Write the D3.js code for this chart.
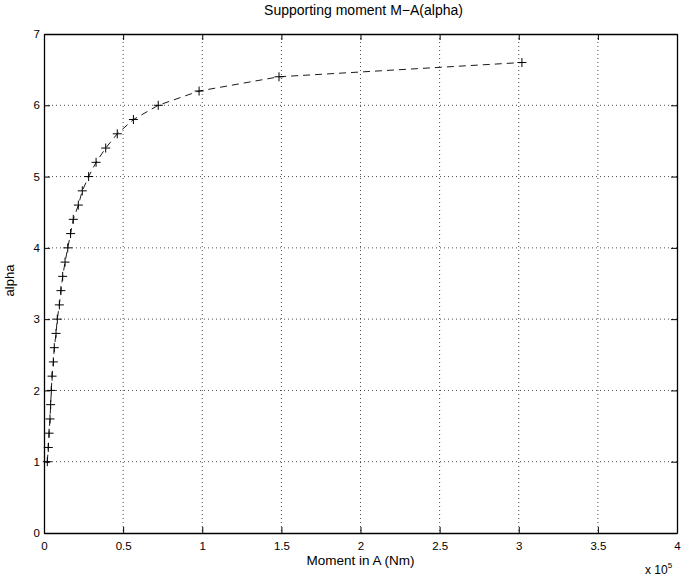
<!DOCTYPE html>
<html><head><meta charset="utf-8">
<script src="https://cdn.jsdelivr.net/npm/d3@7"></script>
<style>body{margin:0;background:#fff;} text{font-family:"Liberation Sans",Arial,sans-serif;}</style>
</head><body><svg id="c" width="683" height="578"></svg>
<script>
const alphaVals = [1.0,1.2,1.4,1.6,1.8,2.0,2.2,2.4,2.6,2.8,3.0,3.2,3.4,3.6,3.8,4.0,4.2,4.4,4.6,4.8,5.0,5.2,5.4,5.6,5.8,6.0,6.2,6.4,6.6];
const momentVals = [0.021,0.027,0.032,0.038,0.042,0.046,0.051,0.059,0.065,0.076,0.084,0.097,0.107,0.118,0.133,0.150,0.168,0.185,0.217,0.242,0.282,0.329,0.390,0.463,0.565,0.722,0.98,1.485,3.02];
const xTicks = [0,0.5,1,1.5,2,2.5,3,3.5,4];
const yTicks = [0,1,2,3,4,5,6,7];
const titleText = "Supporting moment M\u2212A(alpha)";
const xLabel = "Moment in A (Nm)";
const yLabel = "alpha";

const L=44,R=677,T=34,B=533;
const svg=d3.select("#c");
const x=d3.scaleLinear().domain([0,4]).range([L,R]);
const y=d3.scaleLinear().domain([0,7]).range([B,T]);
const g=svg.append("g");
// grid
g.selectAll(".gx").data(xTicks.slice(1,-1)).enter().append("line")
 .attr("x1",d=>x(d)).attr("x2",d=>x(d)).attr("y1",T).attr("y2",B)
 .attr("stroke","#000").attr("stroke-width",0.7).attr("stroke-dasharray","1,3");
g.selectAll(".gy").data(yTicks.slice(1,-1)).enter().append("line")
 .attr("y1",d=>y(d)).attr("y2",d=>y(d)).attr("x1",L).attr("x2",R)
 .attr("stroke","#000").attr("stroke-width",0.7).attr("stroke-dasharray","1,3");
// axes
const fmt=d=>String(d);
const ax=svg.append("g").attr("transform",`translate(0,${B})`).call(d3.axisBottom(x).tickValues(xTicks).tickFormat(fmt).tickSizeInner(-6).tickSizeOuter(0).tickPadding(9));
const axT=svg.append("g").attr("transform",`translate(0,${T})`).call(d3.axisTop(x).tickValues(xTicks).tickFormat("").tickSizeInner(-6).tickSizeOuter(0));
const ay=svg.append("g").attr("transform",`translate(${L},0)`).call(d3.axisLeft(y).tickValues(yTicks).tickFormat(fmt).tickSizeInner(-6).tickSizeOuter(0).tickPadding(4));
const ayR=svg.append("g").attr("transform",`translate(${R},0)`).call(d3.axisRight(y).tickValues(yTicks).tickFormat("").tickSizeInner(-6).tickSizeOuter(0));
[ax,axT,ay,ayR].forEach(a=>{a.select(".domain").attr("stroke","#000").attr("stroke-width",1.3);a.selectAll("line").attr("stroke","#000");a.selectAll("text").attr("font-size",11.5).attr("fill","#000").attr("font-family","Liberation Sans, Arial, sans-serif");});
// line
const line=d3.line().x((d,i)=>x(momentVals[i])).y(d=>y(d));
svg.append("path").attr("d",line(alphaVals)).attr("fill","none").attr("stroke","#000").attr("stroke-width",0.9).attr("stroke-dasharray","7,5");
// markers
const m=svg.append("g");
alphaVals.forEach((a,i)=>{
 const cx=x(momentVals[i]),cy=y(a);
 m.append("line").attr("x1",cx-4.5).attr("x2",cx+4.5).attr("y1",cy).attr("y2",cy).attr("stroke","#000").attr("stroke-width",1);
 m.append("line").attr("x1",cx).attr("x2",cx).attr("y1",cy-4.5).attr("y2",cy+4.5).attr("stroke","#000").attr("stroke-width",1);
});
// texts
svg.append("text").attr("x",(L+R)/2+3).attr("y",15).attr("text-anchor","middle").attr("font-size",14).text(titleText);
svg.append("text").attr("x",(L+R)/2).attr("y",565).attr("text-anchor","middle").attr("font-size",13.5).text(xLabel);
svg.append("text").attr("transform",`translate(14,${(T+B)/2-3}) rotate(-90)`).attr("text-anchor","middle").attr("font-size",13).text(yLabel);
const ex=svg.append("text").attr("x",645).attr("y",574).attr("font-size",12);
ex.append("tspan").text("x 10");
ex.append("tspan").attr("dy",-6).attr("font-size",8).text("5");
</script></body></html>
